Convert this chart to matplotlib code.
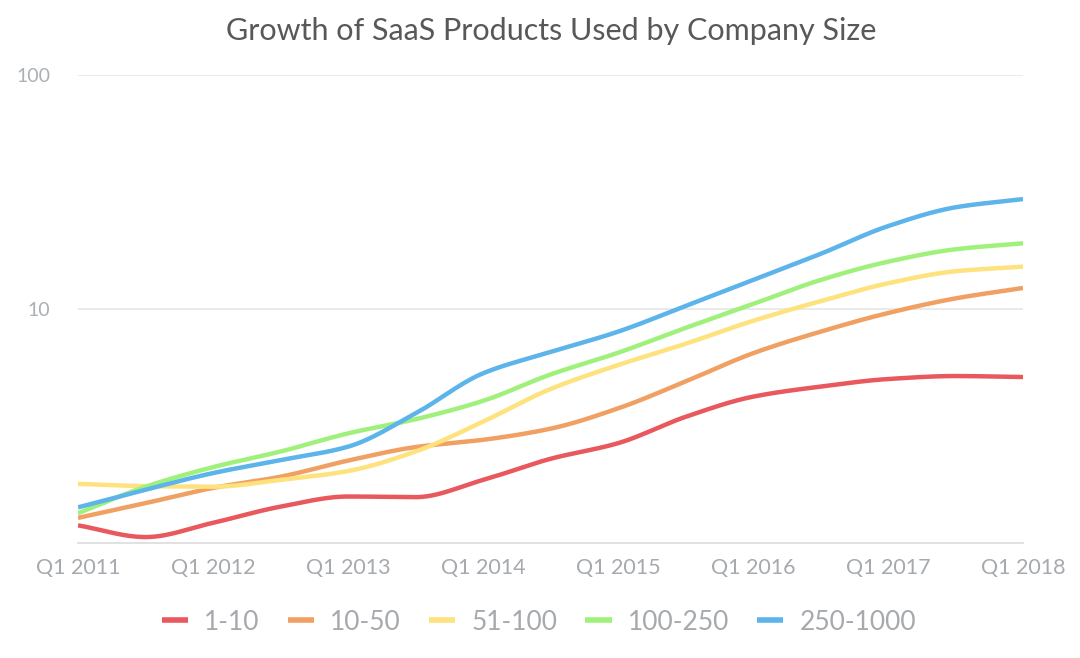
import numpy as np
import matplotlib
matplotlib.use("Agg")
import matplotlib.pyplot as plt

# ---- data (half-year samples) ----
periods = [2011.0, 2011.5, 2012.0, 2012.5, 2013.0, 2013.5, 2014.0, 2014.5,
           2015.0, 2015.5, 2016.0, 2016.5, 2017.0, 2017.5, 2018.0]
tick_years = [2011, 2012, 2013, 2014, 2015, 2016, 2017, 2018]
tick_labels = ["Q1 2011", "Q1 2012", "Q1 2013", "Q1 2014",
               "Q1 2015", "Q1 2016", "Q1 2017", "Q1 2018"]

size_1_10 = [1.19, 1.06, 1.22, 1.43, 1.58, 1.57, 1.86, 2.29,
             2.67, 3.46, 4.22, 4.66, 5.02, 5.17, 5.12]
size_10_50 = [1.28, 1.48, 1.72, 1.92, 2.25, 2.57, 2.76, 3.08,
              3.76, 4.9, 6.47, 8.0, 9.61, 11.1, 12.3]
size_51_100 = [1.79, 1.75, 1.74, 1.86, 2.03, 2.46, 3.3, 4.55,
               5.76, 7.1, 8.9, 10.8, 12.88, 14.5, 15.17]
size_100_250 = [1.34, 1.74, 2.11, 2.46, 2.94, 3.38, 4.05, 5.25,
                6.5, 8.3, 10.5, 13.3, 15.93, 18.0, 19.09]
size_250_1000 = [1.42, 1.69, 1.99, 2.26, 2.58, 3.58, 5.31, 6.55,
                 8.0, 10.3, 13.3, 17.2, 22.6, 27.2, 29.5]

series_names = ["1-10", "10-50", "51-100", "100-250", "250-1000"]
series_values = [size_1_10, size_10_50, size_51_100, size_100_250, size_250_1000]
colors = ["#e8585c", "#f0a062", "#fde27e", "#a0f07c", "#5cb4ea"]


def monotone_smooth(x, y, n=600):
    """Monotone cubic Hermite interpolation in log space."""
    x = np.asarray(x, float)
    ly = np.log10(np.asarray(y, float))
    h = np.diff(x)
    d = np.diff(ly) / h
    m = np.zeros_like(ly)
    m[0], m[-1] = d[0], d[-1]
    for k in range(1, len(x) - 1):
        if d[k - 1] * d[k] <= 0:
            m[k] = 0.0
        else:
            w1 = 2 * h[k] + h[k - 1]
            w2 = h[k] + 2 * h[k - 1]
            m[k] = (w1 + w2) / (w1 / d[k - 1] + w2 / d[k])
    xs = np.linspace(x[0], x[-1], n)
    idx = np.clip(np.searchsorted(x, xs) - 1, 0, len(x) - 2)
    t = (xs - x[idx]) / h[idx]
    h00 = 2 * t**3 - 3 * t**2 + 1
    h10 = t**3 - 2 * t**2 + t
    h01 = -2 * t**3 + 3 * t**2
    h11 = t**3 - t**2
    ys = (h00 * ly[idx] + h10 * h[idx] * m[idx]
          + h01 * ly[idx + 1] + h11 * h[idx] * m[idx + 1])
    return xs, 10 ** ys


plt.rcParams['font.family'] = ['Lato', 'DejaVu Sans']

fig = plt.figure(figsize=(10.8, 6.58), dpi=100)
ax = fig.add_axes([78 / 1080, 1 - 543 / 658, (1023 - 78) / 1080, (543 - 75) / 658])

for name, vals, c in zip(series_names, series_values, colors):
    xs, ys = monotone_smooth(periods, vals)
    ax.plot(xs, ys, color=c, lw=3.2, label=name, solid_capstyle='butt', zorder=3)

ax.set_yscale('log')
ax.set_ylim(1, 100)
ax.set_xlim(2011, 2018)
ax.set_yticks([10, 100])
ax.set_yticklabels(["10", "100"])
ax.yaxis.set_minor_locator(matplotlib.ticker.NullLocator())
ax.set_xticks(tick_years)
ax.set_xticklabels(tick_labels)

for v in [10, 100]:
    ax.axhline(v, color="#e6e6e6", lw=1.2, zorder=1)

for s in ['top', 'right', 'left']:
    ax.spines[s].set_visible(False)
ax.spines['bottom'].set_color("#dcdcdc")
ax.spines['bottom'].set_linewidth(1.2)

ax.tick_params(axis='y', length=0, pad=20, labelsize=14, labelcolor="#a9b0b8")
ax.tick_params(axis='x', length=0, pad=11, labelsize=15.5, labelcolor="#a6a9ad")

fig.text(551 / 1080, 1 - 31 / 658, "Growth of SaaS Products Used by Company Size",
         ha='center', va='center', fontsize=22, color="#585858")

leg = fig.legend(loc='center', bbox_to_anchor=(539 / 1080, 1 - 622 / 658), ncol=5,
                 frameon=False, fontsize=19, handlelength=1.0, handletextpad=0.62,
                 columnspacing=1.05)
for line in leg.get_lines():
    line.set_linewidth(4)
for t in leg.get_texts():
    t.set_color("#a6a9ad")

fig.savefig("out.png", dpi=100, facecolor='white')
